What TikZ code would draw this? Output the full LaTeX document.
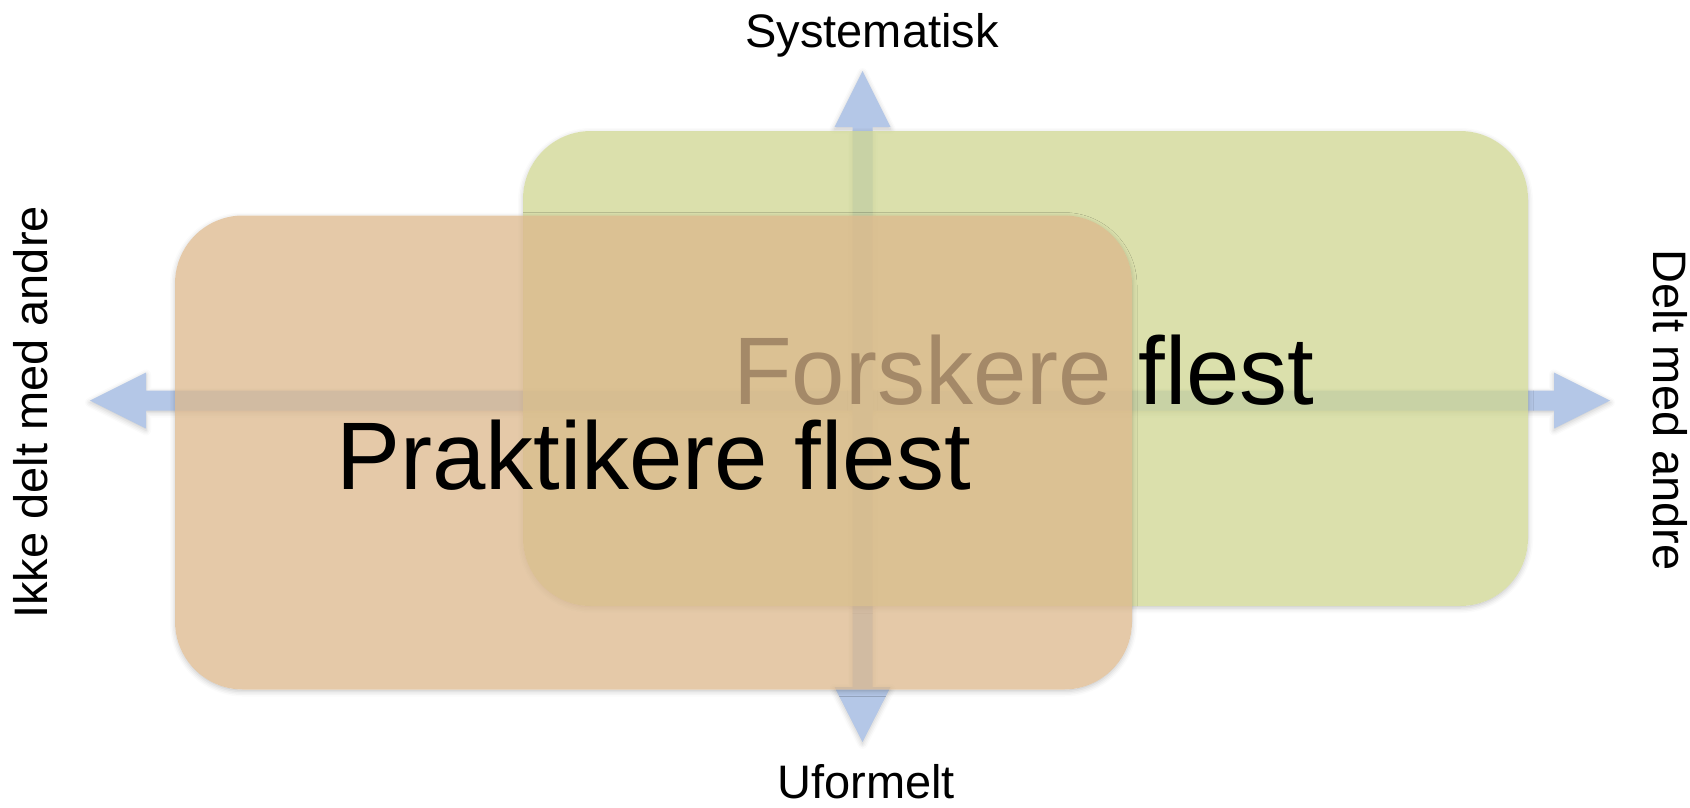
\documentclass[tikz,border=0pt]{standalone}
\usepackage{fontspec}
\setmainfont{Liberation Sans}
\usetikzlibrary{calc,shadows.blur}
\definecolor{axisblue}{RGB}{180,199,231}
\definecolor{boxgreen}{RGB}{207,214,144}
\definecolor{boxorange}{RGB}{220,183,139}
\tikzset{
  softshadow/.style={blur shadow={shadow xshift=0pt, shadow yshift=-2pt, shadow blur radius=5pt, shadow opacity=22}},
  axisarrow/.style={fill=axisblue, draw=none, softshadow},
  softbox/.style={rectangle, rounded corners=68pt, fill opacity=0.75, draw=none, inner sep=0pt},
  bigtext/.style={inner sep=0pt, font=\fontsize{96}{110}\selectfont},
  axislabel/.style={inner sep=0pt, text depth=0pt, font=\fontsize{47}{56}\selectfont},
}
\begin{document}
\begin{tikzpicture}[x=1pt,y=-1pt]
\useasboundingbox (0,0) rectangle (1690,807);
% axis end points
\coordinate (L) at (90,400.5);
\coordinate (R) at (1610,400.5);
\coordinate (T) at (862.5,71);
\coordinate (B) at (862.5,742);
% horizontal double arrow
\fill[axisarrow] (L) -- ($(L)+(56,-28)$) -- ($(L)+(56,-10)$) -- ($(R)+(-56,-10)$)
  -- ($(R)+(-56,-28)$) -- (R) -- ($(R)+(-56,28)$) -- ($(R)+(-56,10)$)
  -- ($(L)+(56,10)$) -- ($(L)+(56,28)$) -- cycle;
% vertical double arrow
\fill[axisarrow] (T) -- ($(T)+(28,56)$) -- ($(T)+(10,56)$) -- ($(B)+(10,-55)$)
  -- ($(B)+(28,-55)$) -- (B) -- ($(B)+(-28,-55)$) -- ($(B)+(-10,-55)$)
  -- ($(T)+(-10,56)$) -- ($(T)+(-28,56)$) -- cycle;
% shadow of green box (outside the box only)
\begin{scope}[even odd rule, rounded corners=68pt]
  \clip (-200,-200) rectangle (1900,1000) (523,131) rectangle (1528,606);
  \path[softshadow] (523,131) rectangle (1528,606);
\end{scope}
% green box
\node[softbox, fill=boxgreen, minimum width=1005pt, minimum height=475pt] (gbox) at (1025.5,368.5) {};
\node[bigtext, anchor=base west] (forsk) at (733,404) {Forskere flest};
% shadow of orange box (outside the box only)
\begin{scope}[even odd rule, rounded corners=68pt]
  \clip (-200,-200) rectangle (1900,1000) (175,215.5) rectangle (1132,689.5);
  \path[softshadow] (175,215.5) rectangle (1132,689.5);
\end{scope}
% orange box
\node[softbox, fill=boxorange, minimum width=957pt, minimum height=474pt] (obox) at (653.5,452.5) {};
\node[bigtext, anchor=base west] (prakt) at (336,489) {Praktikere flest};
% axis labels
\node[axislabel, anchor=base] (sys) at (872,47) {Systematisk};
\node[axislabel, anchor=base] (ufo) at (866,798) {Uformelt};
\node[axislabel, anchor=base, rotate=90] (ikke) at (47,412.5) {Ikke delt med andre};
\node[axislabel, anchor=base, rotate=-90] (delt) at (1653,410) {Delt med andre};
\end{tikzpicture}
\end{document}
